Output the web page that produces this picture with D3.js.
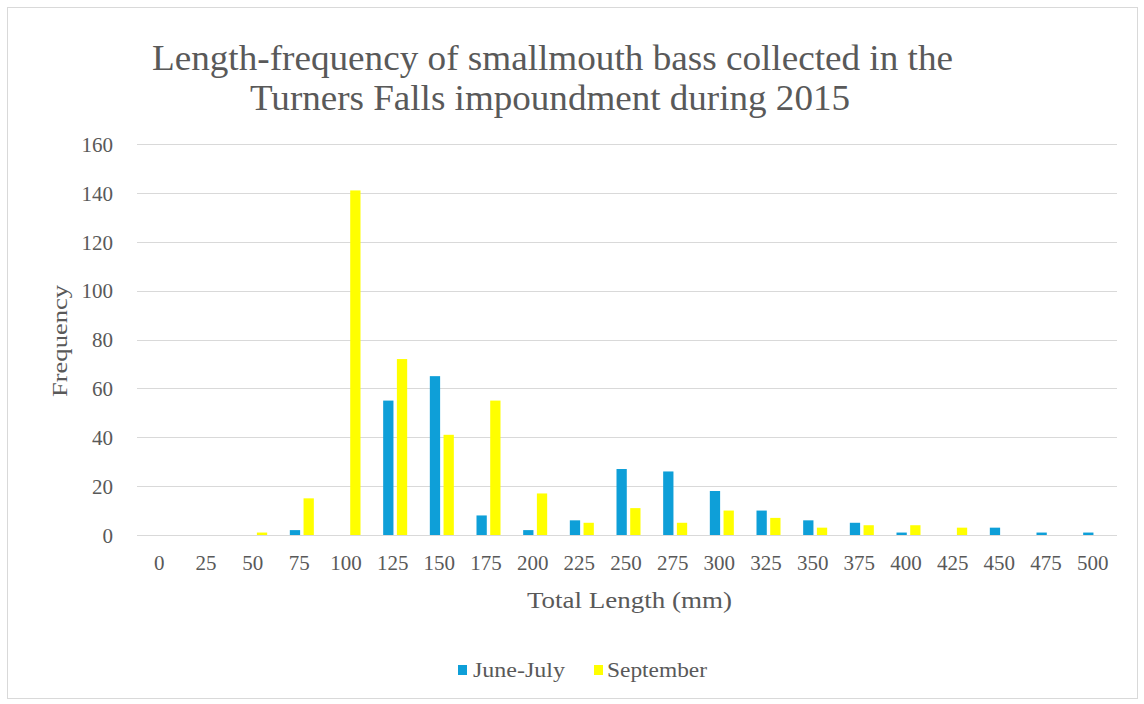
<!DOCTYPE html>
<html>
<head>
<meta charset="utf-8">
<script src="https://cdn.jsdelivr.net/npm/d3@7"></script>
<style>
  html, body { margin: 0; padding: 0; background: #fff; }
  svg text { font-family: "Liberation Serif", "Times New Roman", serif; fill: #595959; }
</style>
</head>
<body>
<svg id="chart" width="1144" height="704"></svg>
<script>
// Length classes (mm)
const lengths = [0, 25, 50, 75, 100, 125, 150, 175, 200, 225, 250, 275, 300, 325, 350, 375, 400, 425, 450, 475, 500];
// Fish counts per length class
const juneJuly  = [0, 0, 0, 2, 0, 55, 65, 8, 2, 6, 27, 26, 18, 10, 6, 5, 1, 0, 3, 1, 1];
const september = [0, 0, 1, 15, 141, 72, 41, 55, 17, 5, 11, 5, 10, 7, 3, 4, 4, 3, 0, 0, 0];
const seriesNames = ["June-July", "September"];
const seriesColors = ["#0E9FD8", "#FFFF00"];
const yTicks = [0, 20, 40, 60, 80, 100, 120, 140, 160];

const svg = d3.select("#chart");
const W = 1144, H = 704;

// outer chart frame
svg.append("rect")
  .attr("x", 7.5).attr("y", 7.5).attr("width", W - 14).attr("height", H - 13)
  .attr("fill", "#fff").attr("stroke", "#d9d9d9").attr("stroke-width", 1);

const plot = { left: 137, right: 1117, top: 144, bottom: 535 };

const x = d3.scaleBand().domain(lengths).range([plot.left, plot.right]).paddingInner(0).paddingOuter(0);
const y = d3.scaleLinear().domain([0, 160]).range([plot.bottom, plot.top]);
// the two series sit side by side in each length class, with a small gap
const xs = d3.scaleBand().domain(seriesNames).range([-12, 12]).paddingInner(0.25);

// horizontal gridlines
svg.append("g")
  .selectAll("line")
  .data(yTicks)
  .join("line")
  .attr("x1", plot.left).attr("x2", plot.right)
  .attr("y1", d => Math.round(y(d)) + 0.5).attr("y2", d => Math.round(y(d)) + 0.5)
  .attr("stroke", "#d9d9d9").attr("stroke-width", 1);

// y axis labels
const yAxis = d3.axisLeft(y).tickValues(yTicks).tickSize(0).tickPadding(0);
const gy = svg.append("g").attr("transform", `translate(${plot.left - 24},0)`).call(yAxis);
gy.select(".domain").remove();
gy.selectAll("text").attr("font-size", 21).style("font-family", "Liberation Serif, serif").attr("fill", "#595959").attr("dy", "0.35em");

// x axis labels
const xAxis = d3.axisBottom(x).tickSize(0).tickPadding(0);
const gx = svg.append("g").attr("transform", `translate(-1,${plot.bottom + 20})`).call(xAxis);
gx.select(".domain").remove();
gx.selectAll("text").attr("font-size", 21).style("font-family", "Liberation Serif, serif").attr("fill", "#595959");

// bars
const rows = lengths.map((L, i) => ({ L, vals: [juneJuly[i], september[i]] }));
const groups = svg.append("g").selectAll("g")
  .data(rows)
  .join("g")
  .attr("transform", d => `translate(${x(d.L) + x.bandwidth() / 2 + 1.5},0)`);
groups.selectAll("rect")
  .data(d => d.vals.map((v, j) => ({ name: seriesNames[j], v, c: seriesColors[j] })))
  .join("rect")
  .attr("x", d => xs(d.name))
  .attr("width", xs.bandwidth())
  .attr("y", d => y(d.v))
  .attr("height", d => y(0) - y(d.v))
  .attr("fill", d => d.c);

// title
const title = svg.append("text").attr("font-size", 35);
title.append("tspan").attr("x", 152).attr("y", 70)
  .attr("textLength", 801).attr("lengthAdjust", "spacingAndGlyphs")
  .text("Length-frequency of smallmouth bass collected in the");
title.append("tspan").attr("x", 250).attr("y", 110)
  .attr("textLength", 600).attr("lengthAdjust", "spacingAndGlyphs")
  .text("Turners Falls impoundment during 2015");

// axis titles
svg.append("text")
  .attr("transform", `translate(67,397) rotate(-90)`)
  .attr("font-size", 22)
  .attr("textLength", 112).attr("lengthAdjust", "spacingAndGlyphs")
  .text("Frequency");
svg.append("text")
  .attr("x", 527).attr("y", 608)
  .attr("font-size", 23)
  .attr("textLength", 205).attr("lengthAdjust", "spacingAndGlyphs")
  .text("Total Length (mm)");

// legend
const legendItems = [
  { name: seriesNames[0], c: seriesColors[0], mx: 458, tx: 473, tw: 92 },
  { name: seriesNames[1], c: seriesColors[1], mx: 594, tx: 607, tw: 100 }
];
const legend = svg.append("g");
legendItems.forEach(it => {
  legend.append("rect").attr("x", it.mx).attr("y", 665).attr("width", 9).attr("height", 10).attr("fill", it.c);
  legend.append("text").attr("x", it.tx).attr("y", 677).attr("font-size", 22)
    .attr("textLength", it.tw).attr("lengthAdjust", "spacingAndGlyphs").text(it.name);
});
</script>
</body>
</html>
